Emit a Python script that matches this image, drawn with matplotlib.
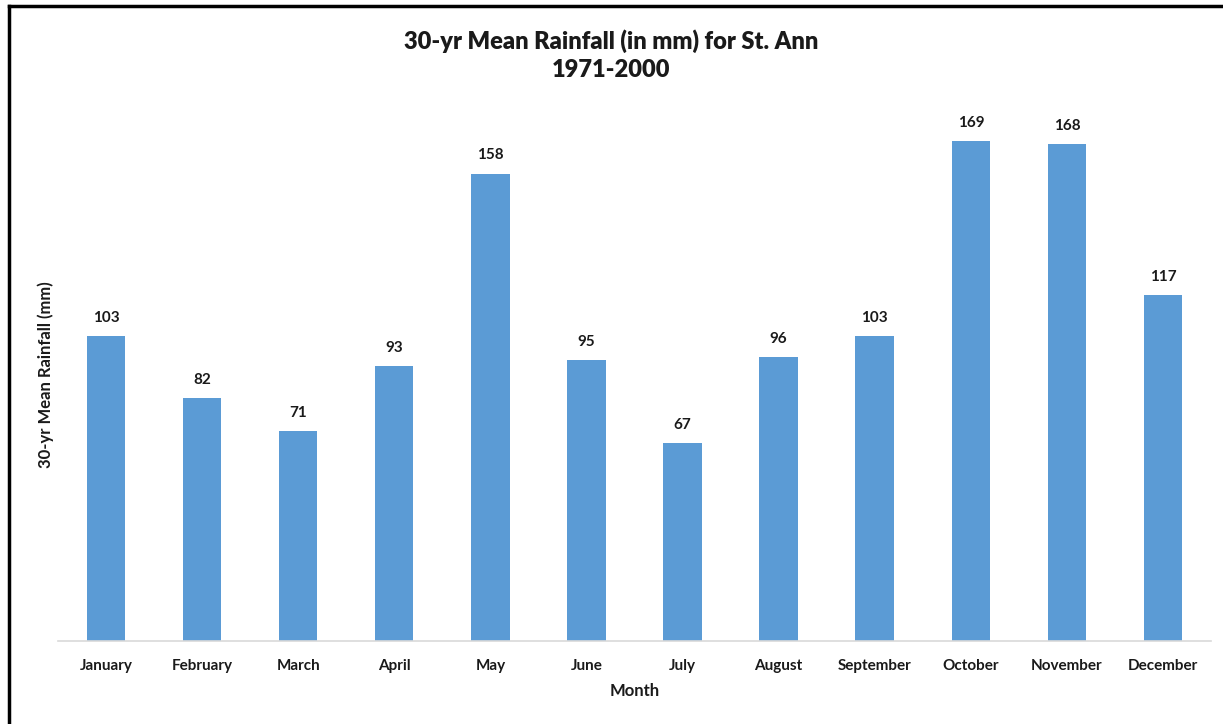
import matplotlib
matplotlib.use("Agg")
import matplotlib.pyplot as plt
from matplotlib.lines import Line2D

# 30-yr mean monthly rainfall, St. Ann, 1971-2000
months = ["January", "February", "March", "April", "May", "June",
          "July", "August", "September", "October", "November", "December"]
rainfall_mm = [103, 82, 71, 93, 158, 95, 67, 96, 103, 169, 168, 117]

plt.rcParams["font.family"] = ["Lato", "DejaVu Sans"]

fig = plt.figure(figsize=(12.23, 7.24), dpi=100)
ax = fig.add_axes([0.0474, 0.1146, 0.9428, 0.7356])

x = range(len(months))
bars = ax.bar(x, rainfall_mm, width=0.4, color="#5B9BD5", zorder=2)
for b, v in zip(bars, rainfall_mm):
    ax.annotate(f"{v}", (b.get_x() + b.get_width() / 2, v), xytext=(0, 8),
                textcoords="offset points", ha="center", va="bottom",
                fontsize=11, fontweight="bold", color="#1a1a1a")

ax.set_xlim(-0.5, len(months) - 0.5)
ax.set_ylim(0, 180)
ax.set_xticks(list(x))
ax.set_xticklabels(months, fontsize=11, fontweight="bold", color="#1a1a1a")
ax.tick_params(axis="x", length=0, pad=13)
ax.set_yticks([])
for side in ("top", "right", "left"):
    ax.spines[side].set_visible(False)
ax.spines["bottom"].set_color("#D9D9D9")
ax.spines["bottom"].set_linewidth(1.2)

ax.set_xlabel("Month", fontsize=12, fontweight="bold", color="#1a1a1a", labelpad=7)
fig.text(0.037, 0.482, "30-yr Mean Rainfall (mm)", rotation=90, ha="center", va="center",
         fontsize=12, fontweight="bold", color="#1a1a1a")
fig.text(0.5, 0.924, "30-yr Mean Rainfall (in mm) for St. Ann\n1971-2000", ha="center", va="center",
         fontsize=17, fontweight="heavy", color="#1a1a1a", linespacing=1.3)

# frame lines along the left and top edges
fig.add_artist(Line2D([0.0074, 0.0074], [0, 0.9917], transform=fig.transFigure, color="black", lw=2.5))
fig.add_artist(Line2D([0.0074, 1.0], [0.9917, 0.9917], transform=fig.transFigure, color="black", lw=2.5))

fig.savefig("out.png", dpi=100, facecolor="white")
